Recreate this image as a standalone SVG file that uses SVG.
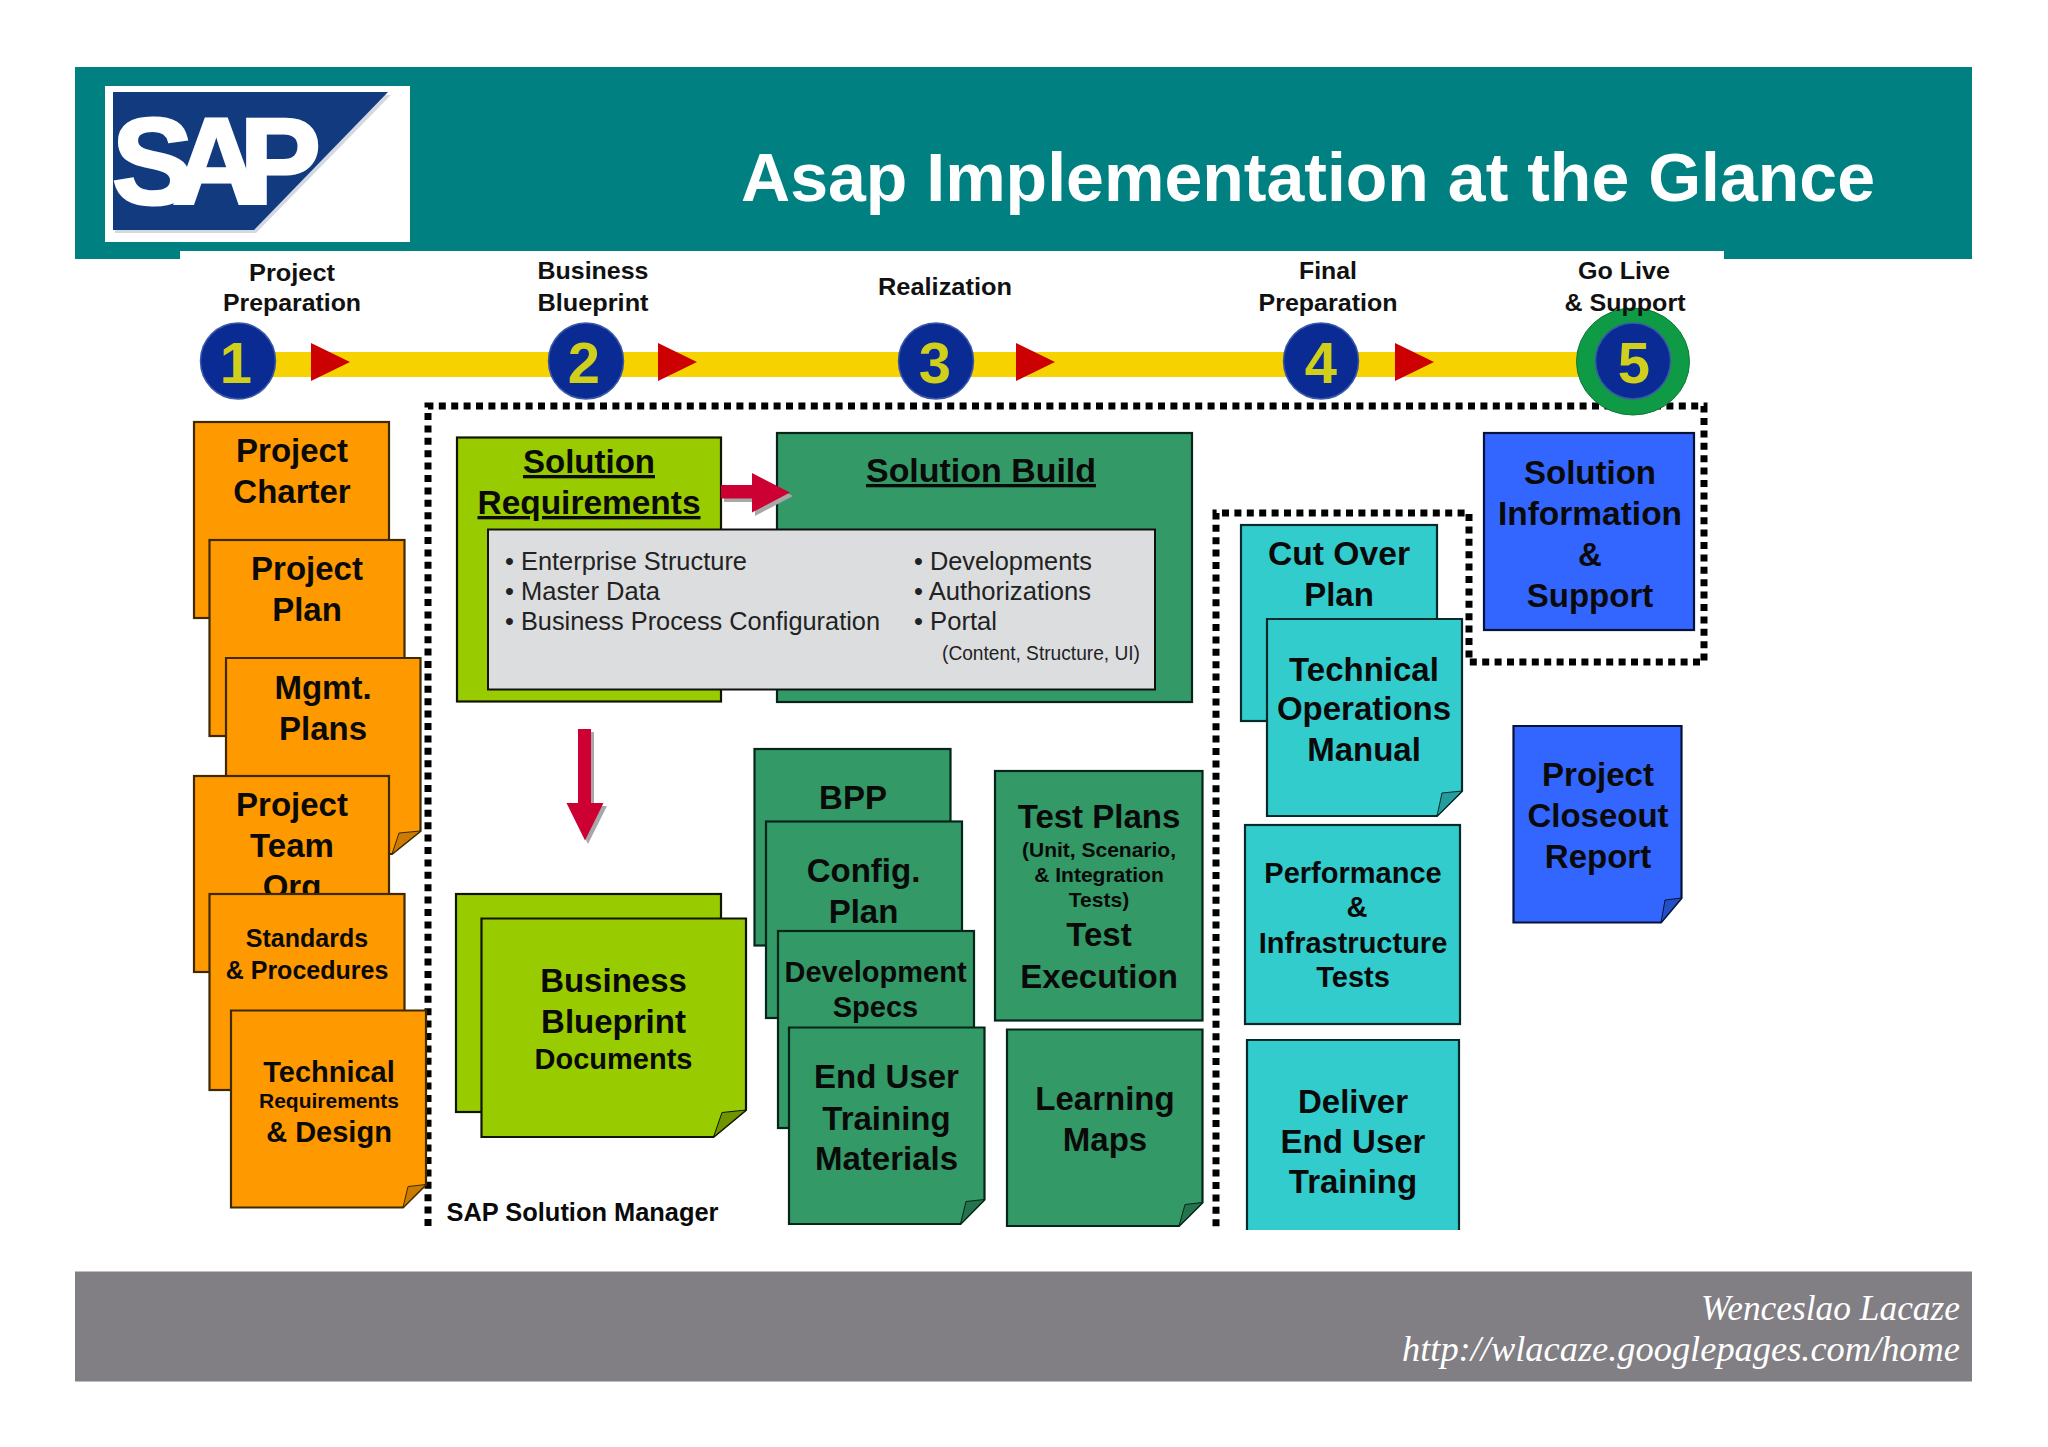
<svg xmlns="http://www.w3.org/2000/svg" width="2048" height="1447" viewBox="0 0 2048 1447">
<style>
text{font-family:"Liberation Sans",Arial,sans-serif;font-weight:700;fill:#0a0a0a;text-anchor:middle}
.s33{font-size:33px}.s29{font-size:29px}.s25{font-size:25px}.s21{font-size:21px}.ph{font-size:24px;fill:#111}
.u{text-decoration:underline}
.g{font-weight:400;font-size:25px;text-anchor:start;fill:#222}
.foot{font-family:"Liberation Serif",serif;font-style:italic;font-weight:400;font-size:35px;fill:#fff;text-anchor:end}
.num{font-size:58px;fill:#cfcf1c}
.or{fill:#ff9900;stroke:#3d2a00;stroke-width:2.2}
.lg{fill:#99cc00;stroke:#101500;stroke-width:2.2}
.dg{fill:#339966;stroke:#06251a;stroke-width:2.2}
.tl{fill:#33cccc;stroke:#052a2a;stroke-width:2.2}
.bl{fill:#3366ff;stroke:#07123a;stroke-width:2.2}
.dot{fill:none;stroke:#000;stroke-width:7;stroke-dasharray:7 5.4}
.c{fill:#0a2a94;stroke:#3a58a8;stroke-width:1.5}
.tri{fill:#cc0000}
.arr{fill:#cc0033}.sh{fill:#a8a8a8}
.fo{fill:#cc7a00;stroke:#3d2a00;stroke-width:1}.fl{fill:#6f9400;stroke:#101500;stroke-width:1}.fd{fill:#25734c;stroke:#06251a;stroke-width:1}.ft{fill:#259c9c;stroke:#052a2a;stroke-width:1}.fb{fill:#234fc4;stroke:#07123a;stroke-width:1}
</style>
<rect width="2048" height="1447" fill="#fff"/>
<g id="header">
<rect x="75" y="67" width="1897" height="192" fill="#008080"/>
<rect x="180" y="251" width="1544" height="9" fill="#fff"/>
<text x="741" y="201" style="font-size:68px;fill:#fff;text-anchor:start" textLength="1134" lengthAdjust="spacingAndGlyphs">Asap Implementation at the Glance</text>
</g>
<g id="logo">
<rect x="105" y="86" width="305" height="156" fill="#fff"/>
<polygon points="115,95 391,95 256,233 115,233" fill="#d4d8e0"/>
<polygon points="113,92 388,92 254,230 113,230" fill="#123a7f"/>
<text x="112" y="204" style="font-size:122px;fill:#fff;stroke:#fff;stroke-width:3;text-anchor:start;letter-spacing:-21px">SAP</text>
</g>
<g id="footer">
<rect x="75" y="1271.500" width="1897" height="110" fill="#817f83"/>
<text class="foot" x="1960" y="1319.500" textLength="259" lengthAdjust="spacingAndGlyphs">Wenceslao Lacaze</text>
<text class="foot" x="1960" y="1360.500" textLength="558" lengthAdjust="spacingAndGlyphs">http://wlacaze.googlepages.com/home</text>
</g>
<g id="connectors">
<rect x="238" y="352" width="1396" height="25" fill="#f6d300"/>
<polygon class="tri" points="311,343 350,362 311,381"/>
<polygon class="tri" points="658,343 697,362 658,381"/>
<polygon class="tri" points="1016,343 1055,362 1016,381"/>
<polygon class="tri" points="1395,343 1434,362 1395,381"/>
</g>
<g id="frames">
<path class="dot" d="M428,1226V406H1704V662H1469V513H1216V1228"/>
</g>
<g id="phase1"><ellipse class="c" cx="238" cy="361" rx="37.500" ry="38"/><text class="num" x="236" y="383">1</text></g>
<g id="phase2"><ellipse class="c" cx="586" cy="361" rx="37.500" ry="38"/><text class="num" x="584" y="383">2</text></g>
<g id="phase3"><ellipse class="c" cx="936" cy="361" rx="37.500" ry="38"/><text class="num" x="935" y="383">3</text></g>
<g id="phase4"><ellipse class="c" cx="1321" cy="361" rx="37.500" ry="38"/><text class="num" x="1321" y="383">4</text></g>
<g id="phase5"><ellipse cx="1633" cy="361.500" rx="56.500" ry="53.500" fill="#0f9b45" stroke="#0b7a36"/><ellipse class="c" cx="1633" cy="361" rx="37.500" ry="38"/><text class="num" x="1634" y="383">5</text></g>
<g id="phase-labels">
<text class="ph" x="292" y="281" textLength="86" lengthAdjust="spacingAndGlyphs">Project</text>
<text class="ph" x="292" y="311" textLength="138" lengthAdjust="spacingAndGlyphs">Preparation</text>
<text class="ph" x="593" y="279" textLength="111" lengthAdjust="spacingAndGlyphs">Business</text>
<text class="ph" x="593" y="311" textLength="111" lengthAdjust="spacingAndGlyphs">Blueprint</text>
<text class="ph" x="945" y="295" textLength="134" lengthAdjust="spacingAndGlyphs">Realization</text>
<text class="ph" x="1328" y="279" textLength="58" lengthAdjust="spacingAndGlyphs">Final</text>
<text class="ph" x="1328" y="311" textLength="139" lengthAdjust="spacingAndGlyphs">Preparation</text>
<text class="ph" x="1624" y="279" textLength="92" lengthAdjust="spacingAndGlyphs">Go Live</text>
<text class="ph" x="1625" y="311" textLength="121" lengthAdjust="spacingAndGlyphs">&amp; Support</text>
</g>
<g id="project-charter"><rect class="or" x="194" y="422" width="195" height="196"/><text class="s33" x="292" y="462">Project</text><text class="s33" x="292" y="502.500">Charter</text></g>
<g id="project-plan"><rect class="or" x="209.500" y="540" width="195" height="196"/><text class="s33" x="307" y="580">Project</text><text class="s33" x="307" y="621">Plan</text></g>
<g id="mgmt-plans"><path class="or" d="M226,658H420.500V831L392,854H226Z"/><path class="fo" d="M392,854L399,833L420.500,831Z"/><text class="s33" x="323" y="699">Mgmt.</text><text class="s33" x="323" y="740">Plans</text></g>
<g id="project-team-org"><rect class="or" x="194" y="776" width="195" height="196"/><text class="s33" x="292" y="816">Project</text><text class="s33" x="292" y="857">Team</text><text class="s33" x="292" y="898">Org</text></g>
<g id="standards"><rect class="or" x="209.500" y="894" width="195" height="196"/><text class="s25" x="307" y="947">Standards</text><text class="s25" x="307" y="979">&amp; Procedures</text></g>
<g id="technical-req"><path class="or" d="M231,1010.500H426V1184.500L403,1207.500H231Z"/><path class="fo" d="M403,1207.500L408,1186.500L426,1184.500Z"/><text class="s29" x="329" y="1082">Technical</text><text class="s21" x="329" y="1108">Requirements</text><text class="s29" x="329" y="1142">&amp; Design</text></g>
<g id="solution-requirements"><rect class="lg" x="457" y="437.500" width="264" height="264"/><text class="s33 u" x="589" y="473">Solution</text><text class="s33 u" x="589" y="514" textLength="223" lengthAdjust="spacingAndGlyphs">Requirements</text></g>
<g id="solution-build"><rect class="dg" x="777" y="433" width="415" height="269"/><text class="s33 u" x="981" y="482" textLength="230" lengthAdjust="spacingAndGlyphs">Solution Build</text></g>
<g id="solution-details"><rect x="488" y="529.500" width="667" height="160" fill="#dcdddf" stroke="#111" stroke-width="2"/>
<text class="g" x="505" y="570" textLength="242" lengthAdjust="spacingAndGlyphs">• Enterprise Structure</text>
<text class="g" x="505" y="600" textLength="155" lengthAdjust="spacingAndGlyphs">• Master Data</text>
<text class="g" x="505" y="630" textLength="375" lengthAdjust="spacingAndGlyphs">• Business Process Configuration</text>
<text class="g" x="914" y="570" textLength="178" lengthAdjust="spacingAndGlyphs">• Developments</text>
<text class="g" x="914" y="600" textLength="177" lengthAdjust="spacingAndGlyphs">• Authorizations</text>
<text class="g" x="914" y="630" textLength="83" lengthAdjust="spacingAndGlyphs">• Portal</text>
<text class="g" x="942" y="660" style="font-size:20px" textLength="198" lengthAdjust="spacingAndGlyphs">(Content, Structure, UI)</text>
</g>
<g id="flow-arrows">
<polygon class="sh" points="724,488 755,488 755,476 793,496 755,516 755,502 724,502"/>
<polygon class="arr" points="721,485 752,485 752,473 790,492.500 752,512.500 752,498.500 721,498.500"/>
<polygon class="sh" points="581,732 594,732 594,806 607,806 588,844 569,806 581,806"/>
<polygon class="arr" points="578,729 591,729 591,803 603.500,803 585,840.500 566.500,803 578,803"/>
</g>
<g id="business-blueprint"><rect class="lg" x="456" y="894" width="265" height="218"/><path class="lg" d="M481.500,918.500H746V1110L713.500,1137H481.500Z"/><path class="fl" d="M713.500,1137L722,1112.500L746,1110Z"/><text class="s33" x="613.500" y="992">Business</text><text class="s33" x="613.500" y="1033">Blueprint</text><text class="s29" x="613.500" y="1069">Documents</text></g>
<g id="solution-manager"><text class="s25" x="582.500" y="1221" textLength="272" lengthAdjust="spacingAndGlyphs">SAP Solution Manager</text></g>
<g id="bpp"><rect class="dg" x="754.500" y="749" width="196" height="196.500"/><text class="s33" x="853" y="809">BPP</text></g>
<g id="config-plan"><rect class="dg" x="766" y="821.500" width="196" height="196.500"/><text class="s33" x="863.500" y="882">Config.</text><text class="s33" x="863.500" y="923">Plan</text></g>
<g id="development-specs"><rect class="dg" x="778" y="931" width="196" height="197"/><text class="s29" x="875.500" y="981.500">Development</text><text class="s29" x="875.500" y="1016.500">Specs</text></g>
<g id="end-user-materials"><path class="dg" d="M789,1027.500H984.500V1199.500L960.500,1224H789Z"/><path class="fd" d="M960.500,1224L966,1201.500L984.500,1199.500Z"/><text class="s33" x="886.500" y="1088">End User</text><text class="s33" x="886.500" y="1129.500">Training</text><text class="s33" x="886.500" y="1170">Materials</text></g>
<g id="test-plans"><rect class="dg" x="995" y="771" width="207.500" height="249.500"/><text class="s33" x="1099" y="828">Test Plans</text><text class="s21" x="1099" y="857">(Unit, Scenario,</text><text class="s21" x="1099" y="882">&amp; Integration</text><text class="s21" x="1099" y="906.500">Tests)</text><text class="s33" x="1099" y="946">Test</text><text class="s33" x="1099" y="988">Execution</text></g>
<g id="learning-maps"><path class="dg" d="M1007,1029.500H1202.500V1202.500L1179,1226H1007Z"/><path class="fd" d="M1179,1226L1185,1204.500L1202.500,1202.500Z"/><text class="s33" x="1105" y="1110">Learning</text><text class="s33" x="1105" y="1151">Maps</text></g>
<g id="cut-over-plan"><rect class="tl" x="1241" y="525" width="196" height="196"/><text class="s33" x="1339" y="565" textLength="142" lengthAdjust="spacingAndGlyphs">Cut Over</text><text class="s33" x="1339" y="606">Plan</text></g>
<g id="tech-ops-manual"><path class="tl" d="M1267,619H1462V791L1437,816H1267Z"/><path class="ft" d="M1437,816L1442,793L1462,791Z"/><text class="s33" x="1364" y="681">Technical</text><text class="s33" x="1364" y="720">Operations</text><text class="s33" x="1364" y="761">Manual</text></g>
<g id="performance-tests"><rect class="tl" x="1245" y="825" width="215" height="199"/><text class="s29" x="1353" y="882.500">Performance</text><text class="s29" x="1357" y="917">&amp;</text><text class="s29" x="1353" y="953">Infrastructure</text><text class="s29" x="1353" y="987">Tests</text></g>
<g id="deliver-training"><rect x="1247" y="1040" width="212" height="190" fill="#33cccc"/><path d="M1247,1230V1040H1459V1230" fill="none" stroke="#052a2a" stroke-width="2.200"/><text class="s33" x="1353" y="1112.500">Deliver</text><text class="s33" x="1353" y="1153">End User</text><text class="s33" x="1353" y="1192.500">Training</text></g>
<g id="solution-info"><rect class="bl" x="1484" y="433" width="210" height="197"/><text class="s33" x="1590" y="484">Solution</text><text class="s33" x="1590" y="525" textLength="184" lengthAdjust="spacingAndGlyphs">Information</text><text class="s33" x="1590" y="566">&amp;</text><text class="s33" x="1590" y="607">Support</text></g>
<g id="project-closeout"><path class="bl" d="M1513.500,726H1681.500V898L1661,922.500H1513.500Z"/><path class="fb" d="M1661,922.500L1665,900L1681.500,898Z"/><text class="s33" x="1598" y="786">Project</text><text class="s33" x="1598" y="827">Closeout</text><text class="s33" x="1598" y="867.500">Report</text></g>
</svg>
